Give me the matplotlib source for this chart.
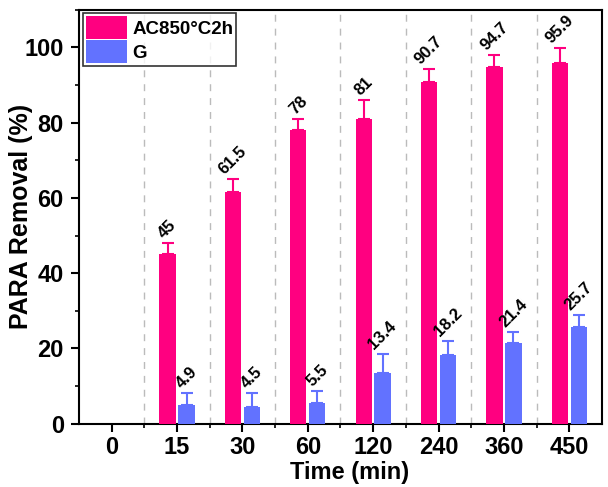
import numpy as np
import matplotlib.pyplot as plt
from matplotlib.ticker import MultipleLocator, FixedLocator

plt.rcParams['font.family'] = ['Liberation Sans', 'DejaVu Sans']
plt.rcParams['font.weight'] = 'bold'

times = ['0', '15', '30', '60', '120', '240', '360', '450']
ac = [0, 45, 61.5, 78, 81, 90.7, 94.7, 95.9]
ac_err = [0, 3, 3.5, 3, 5, 3.5, 3.2, 4]
g = [0, 4.9, 4.5, 5.5, 13.4, 18.2, 21.4, 25.7]
g_err = [0, 3.3, 3.7, 3.3, 5, 3.8, 3, 3.3]

pink = '#ff0080'
blue = '#6272ff'

fig, ax = plt.subplots(figsize=(6.08, 4.87), dpi=100)
fig.subplots_adjust(left=0.13, right=0.99, top=0.98, bottom=0.13)

x = np.arange(len(times))
w = 0.25
off = 0.145

ax.bar(x - off, ac, w, color=pink, label='AC850°C2h', zorder=3)
ax.bar(x + off, g, w, color=blue, label='G', zorder=3)

# only the upper half of the error bars, skip the empty 0 min group
n = len(times)
ax.errorbar(x[1:] - off, ac[1:], yerr=[np.zeros(n - 1), ac_err[1:]], fmt='none',
            ecolor=pink, capsize=4, elinewidth=1.5, capthick=1.5, zorder=2)
ax.errorbar(x[1:] + off, g[1:], yerr=[np.zeros(n - 1), g_err[1:]], fmt='none',
            ecolor=blue, capsize=4, elinewidth=1.5, capthick=1.5, zorder=2)

for i in range(1, n):
    ax.text(x[i] - off, ac[i] + ac_err[i] + 0.5, f'{ac[i]:g}', rotation=45,
            ha='center', va='bottom', fontsize=12, fontweight='bold')
    ax.text(x[i] + off, g[i] + g_err[i] + 0.5, f'{g[i]:g}', rotation=45,
            ha='center', va='bottom', fontsize=12, fontweight='bold')

ax.set_xlim(-0.5, n - 0.5)
ax.set_ylim(0, 110)
ax.set_xticks(x)
ax.set_xticklabels(times)
ax.xaxis.set_minor_locator(FixedLocator(x[:-1] + 0.5))
ax.yaxis.set_major_locator(MultipleLocator(20))
ax.yaxis.set_minor_locator(MultipleLocator(10))
ax.grid(axis='x', which='minor', linestyle=(0, (5, 5)), color='#bbbbbb', linewidth=1, zorder=0)

ax.tick_params(axis='both', which='major', labelsize=17, width=1.5, length=6)
ax.tick_params(axis='x', which='major', pad=3)
ax.tick_params(axis='y', which='major', pad=5)
ax.tick_params(axis='both', which='minor', width=1.2, length=3)
for lab in ax.get_xticklabels() + ax.get_yticklabels():
    lab.set_fontweight('bold')
for s in ax.spines.values():
    s.set_linewidth(1.5)

ax.set_xlabel('Time (min)', fontsize=17, fontweight='bold')
ax.xaxis.set_label_coords(0.518, -0.09)
ax.set_ylabel('PARA Removal (%)', fontsize=18, fontweight='bold')
ax.yaxis.set_label_coords(-0.088, 0.5)

leg = ax.legend(loc='upper left', fontsize=13.5, frameon=True, fancybox=False,
                edgecolor='black', handlelength=2.2, handleheight=1.5,
                borderaxespad=0.2, borderpad=0.15, labelspacing=0.05, handletextpad=0.3)
leg.get_frame().set_linewidth(1.2)
for t in leg.get_texts():
    t.set_fontweight('bold')

fig.savefig('out.png', dpi=100)
